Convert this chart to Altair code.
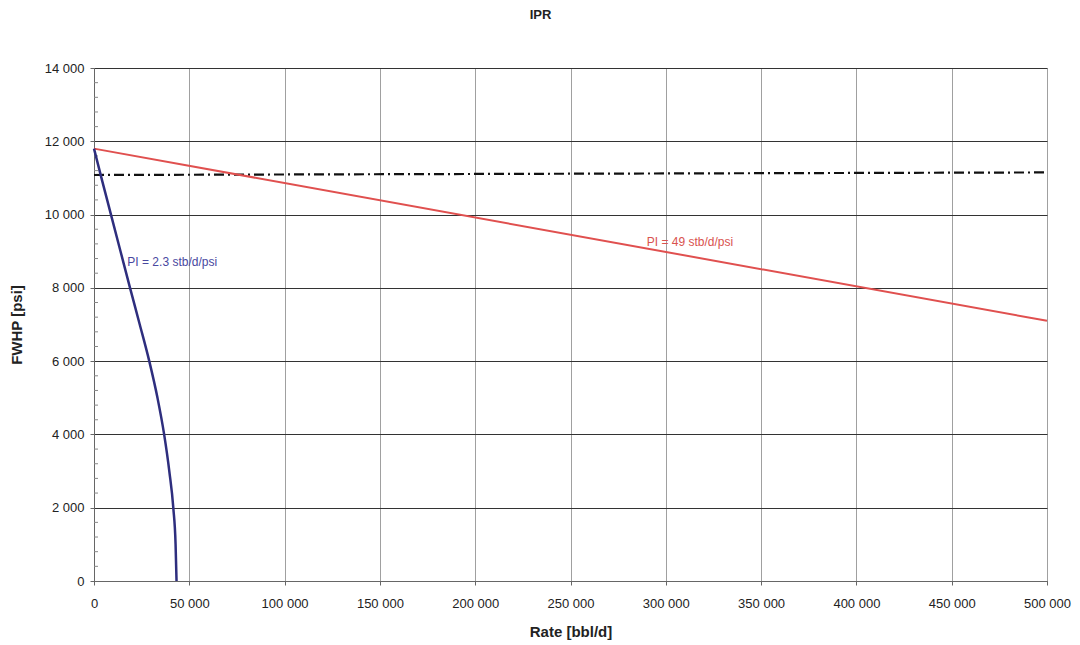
import altair as alt
import pandas as pd

# --- data ---
blue_rate = [0, 4400, 8900, 13900, 18900, 24000, 29000, 33300, 36800, 39500, 41600, 42800, 43300]
blue_fwhp = [11800, 10900, 10000, 9000, 8000, 7000, 6000, 5000, 4000, 3000, 2000, 1000, 0]

red_rate = [0, 500000]
red_fwhp = [11800, 7100]

limit_rate = [0, 500000]
limit_fwhp = [11080, 11150]

label_text = ["PI = 2.3 stb/d/psi", "PI = 49 stb/d/psi"]
label_rate = [17500, 290000]
label_fwhp = [8700, 9250]
label_series = ["blue", "red"]

y_minor = [v for v in range(400, 14000, 400) if v % 2000 != 0]

x_ticks = list(range(0, 500001, 50000))
y_ticks = list(range(0, 14001, 2000))

BLUE = "#2e2e7e"
RED = "#e0504f"
BLUE_TXT = "#4848a0"
RED_TXT = "#d9534f"

blue_df = pd.DataFrame({"rate": blue_rate, "fwhp": blue_fwhp})
red_df = pd.DataFrame({"rate": red_rate, "fwhp": red_fwhp})
lim_df = pd.DataFrame({"rate": limit_rate, "fwhp": limit_fwhp})
lab_df = pd.DataFrame({"rate": label_rate, "fwhp": label_fwhp, "text": label_text, "s": label_series})
minor_df = pd.DataFrame({"fwhp": y_minor})

fmt = "replace(format(datum.value, ','), regexp(',', 'g'), ' ')"

xs = alt.Scale(domain=[0, 500000], nice=False)
ys = alt.Scale(domain=[0, 14000], nice=False)

x_enc = alt.X("rate:Q", scale=xs, title="Rate [bbl/d]",
              axis=alt.Axis(values=x_ticks, labelExpr=fmt, gridColor="#a0a0a0", gridWidth=1,
                            tickSize=4, labelPadding=12, titlePadding=14, labelFlush=False,
                            labelOverlap=False,
                            labelFontSize=13, titleFontSize=15, titleFontWeight="bold",
                            labelColor="#222", titleColor="#222", domainColor="#666",
                            tickColor="#666", labelFont="Liberation Sans", titleFont="Liberation Sans"))
y_enc = alt.Y("fwhp:Q", scale=ys, title="FWHP [psi]",
              axis=alt.Axis(values=y_ticks, labelExpr=fmt, gridColor="#333333", gridWidth=1,
                            tickSize=4, labelPadding=6, titlePadding=20, labelFlush=False,
                            labelFontSize=13, titleFontSize=15, titleFontWeight="bold",
                            labelColor="#222", titleColor="#222", domainColor="#666",
                            tickColor="#666", labelFont="Liberation Sans", titleFont="Liberation Sans"))

blue = alt.Chart(blue_df).mark_line(color=BLUE, strokeWidth=2.5, interpolate="monotone").encode(
    x=x_enc, y=y_enc, order=alt.Order("fwhp:Q", sort="descending"))
red = alt.Chart(red_df).mark_line(color=RED, strokeWidth=2).encode(x="rate:Q", y="fwhp:Q")
lim = alt.Chart(lim_df).mark_line(color="#111", strokeWidth=2.2, strokeDash=[10, 4, 2, 4]).encode(
    x="rate:Q", y="fwhp:Q")
labels = alt.Chart(lab_df).mark_text(align="left", baseline="middle", fontSize=12,
                                      font="Liberation Sans").encode(
    x="rate:Q", y="fwhp:Q", text="text:N",
    color=alt.Color("s:N", scale=alt.Scale(domain=["blue", "red"], range=[BLUE_TXT, RED_TXT]), legend=None))
minor = alt.Chart(minor_df).mark_rule(color="#888", strokeWidth=1).encode(
    y="fwhp:Q", x=alt.value(0), x2=alt.value(4))

chart = alt.layer(minor, lim, red, blue, labels).properties(
    width=953, height=513,
    title=alt.TitleParams("IPR", fontSize=13, font="Liberation Sans", fontWeight="bold",
                          color="#222", offset=40, dx=-30, anchor="middle"),
    autosize=alt.AutoSizeParams(type="none"),
    padding={"left": 86, "top": 60, "right": 25, "bottom": 70},
).configure_view(stroke="#888", strokeWidth=1).configure(background="white")

chart.save("out.html", embed_options={"renderer": "svg", "actions": False})
